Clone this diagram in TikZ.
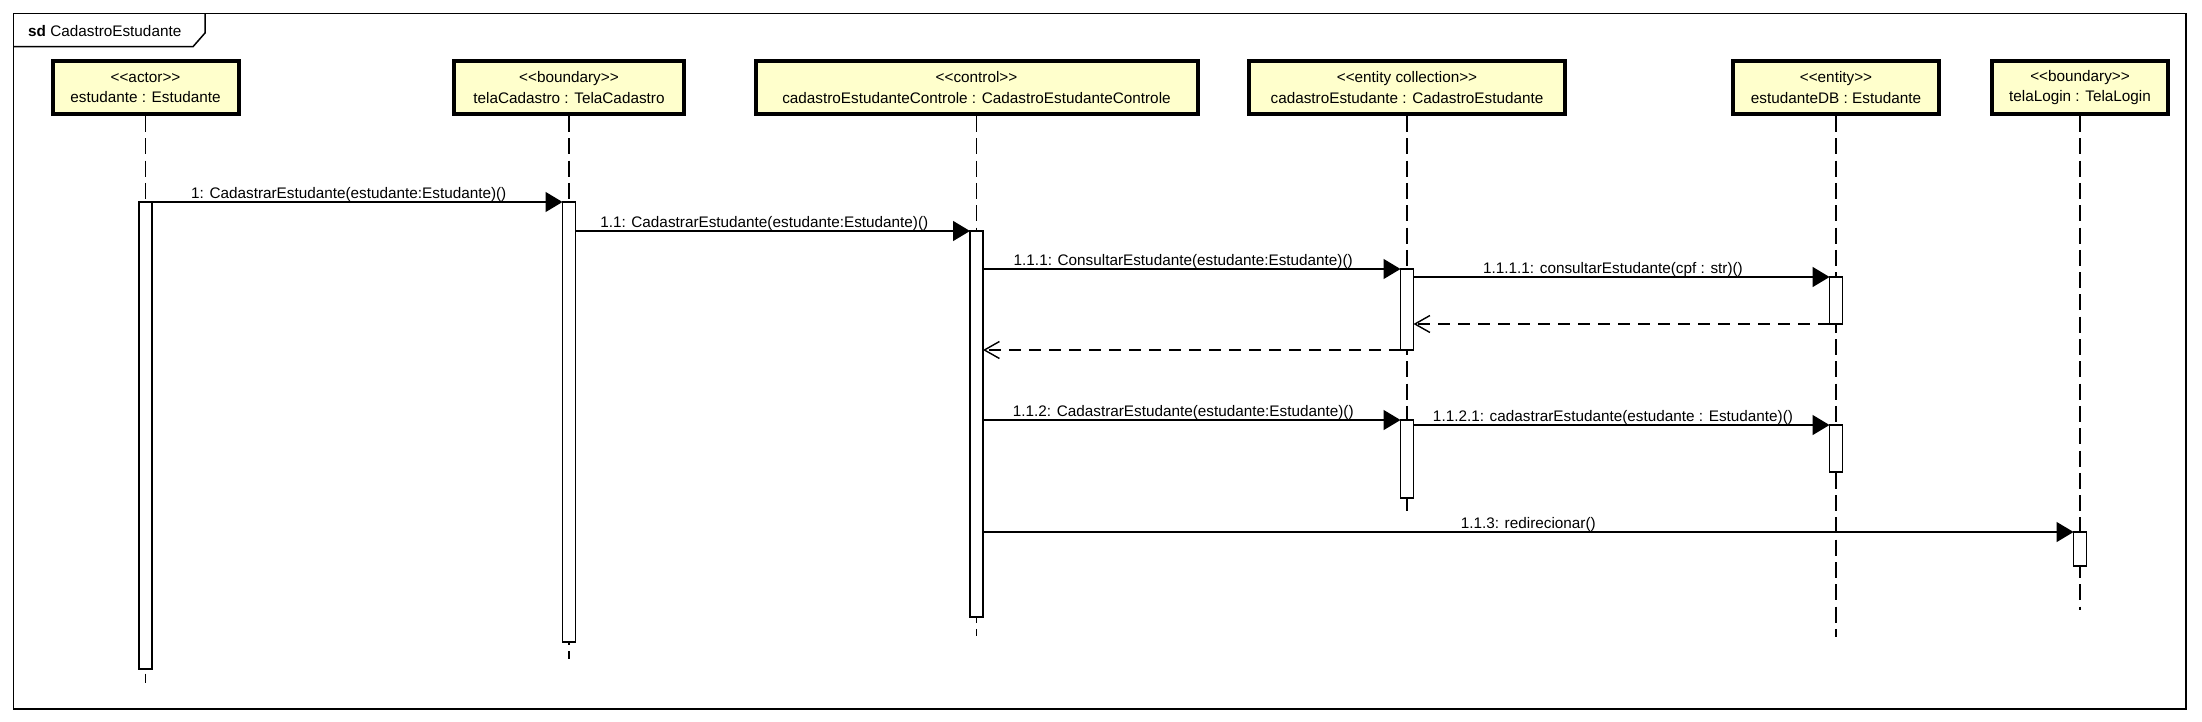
\documentclass[tikz,border=0pt]{standalone}
\usepackage{fontspec}
\setmainfont{Liberation Sans}
\usetikzlibrary{arrows.meta}
\definecolor{objfill}{HTML}{FFFFCC}
\newcommand\stereo[1]{<\kern0pt<#1>\kern0pt>}
\begin{document}
\begin{tikzpicture}[x=1pt,y=-1pt,
  every node/.style={font=\fontsize{15.3}{20.3}\selectfont},
  objbox/.style={draw, line width=4pt, fill=objfill, align=center, inner sep=0pt, minimum height=53pt},
  lifeline/.style={line width=1.4pt, dash pattern=on 16pt off 6.3pt},
  actbar/.style={draw, fill=white, line width=1.4pt, minimum width=13pt, inner sep=0pt, outer sep=0pt},
  msg/.style={line width=1.5pt, -{Triangle[length=17pt,width=20pt]}},
  ret/.style={line width=1.4pt, dash pattern=on 12pt off 8pt, -{Straight Barb[length=15pt,width=17pt]}},
  lbl/.style={midway, anchor=base, yshift=4pt, xshift=-8.5pt},
]
\useasboundingbox (0,0) rectangle (2202,722);
% frame
\draw[line width=1.5pt] (13.5,13.5) rectangle (2186,709);
\draw[line width=1.5pt] (13.5,46.7) -- (193,46.7) -- (205,33) -- (205,13.5);
\node[anchor=base west, inner sep=0pt] (title) at (28,37) {\textbf{sd} CadastroEstudante};
% lifeline heads
\node[objbox, minimum width=186pt] (b1) at (145.5,87.5) {\stereo{actor}\\estudante : Estudante};
\node[objbox, minimum width=230pt] (b2) at (569,87.5) {\stereo{boundary}\\telaCadastro : TelaCadastro};
\node[objbox, minimum width=442pt] (b3) at (976.5,87.5) {\stereo{control}\\cadastroEstudanteControle : CadastroEstudanteControle};
\node[objbox, minimum width=316pt] (b4) at (1407,87.5) {\stereo{entity collection}\\cadastroEstudante : CadastroEstudante};
\node[objbox, minimum width=206pt] (b5) at (1836,87.5) {\stereo{entity}\\estudanteDB : Estudante};
\node[objbox, minimum width=176pt] (b6) at (2080,87.5) {\stereo{boundary}\\telaLogin : TelaLogin};
% lifeline ends
\coordinate (e1) at (145.5,683);
\coordinate (e2) at (569,659);
\coordinate (e3) at (976.5,636);
\coordinate (e4) at (1407,514);
\coordinate (e5) at (1836,637);
\coordinate (e6) at (2080,610);
\foreach \i in {1,...,6} \draw[lifeline] (b\i.south) -- (e\i);
% activations
\node[actbar, minimum height=467pt] (a1) at (145.5,435.5) {};
\node[actbar, minimum height=440pt] (a2) at (569,422) {};
\node[actbar, minimum height=386pt] (a3) at (976.5,424) {};
\node[actbar, minimum height=81pt] (a4a) at (1407,309.5) {};
\node[actbar, minimum height=47pt] (a5a) at (1836,300.5) {};
\node[actbar, minimum height=78pt] (a4b) at (1407,459) {};
\node[actbar, minimum height=47pt] (a5b) at (1836,448.5) {};
\node[actbar, minimum height=34pt] (a6) at (2080,549) {};
% messages
\draw[msg] (a1.north east) -- (a2.north west) node[lbl] {1: CadastrarEstudante(estudante:Estudante)()};
\draw[msg] (a2.east |- a3.north) -- (a3.north west) node[lbl] {1.1: CadastrarEstudante(estudante:Estudante)()};
\draw[msg] (a3.east |- a4a.north) -- (a4a.north west) node[lbl] {1.1.1: ConsultarEstudante(estudante:Estudante)()};
\draw[msg] (a4a.east |- a5a.north) -- (a5a.north west) node[lbl] {1.1.1.1: consultarEstudante(cpf : str)()};
\draw[ret] (a5a.south west) -- (a4a.east |- a5a.south);
\draw[ret] (a4a.south west) -- (a3.east |- a4a.south);
\draw[msg] (a3.east |- a4b.north) -- (a4b.north west) node[lbl] {1.1.2: CadastrarEstudante(estudante:Estudante)()};
\draw[msg] (a4b.east |- a5b.north) -- (a5b.north west) node[lbl] {1.1.2.1: cadastrarEstudante(estudante : Estudante)()};
\draw[msg] (a3.east |- a6.north) -- (a6.north west) node[lbl, xshift=8.5pt] {1.1.3: redirecionar()};
\end{tikzpicture}
\end{document}
